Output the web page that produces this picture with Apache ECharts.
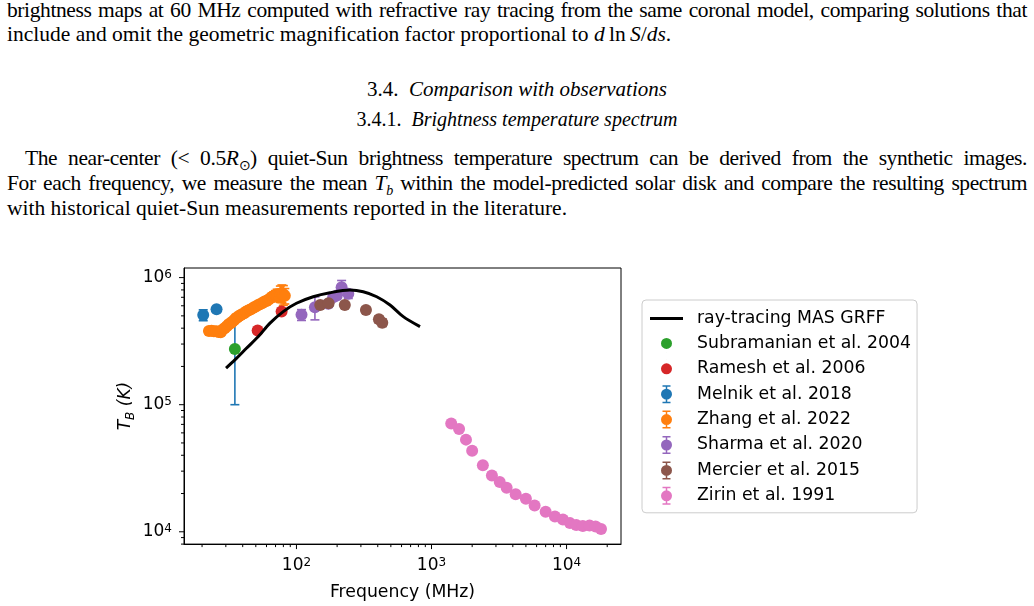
<!DOCTYPE html>
<html>
<head>
<meta charset="utf-8">
<script src="https://cdn.jsdelivr.net/npm/echarts@6/dist/echarts.min.js"></script>
<style>
body { margin: 0; width: 1034px; height: 606px; background: #fff; overflow: hidden; position: relative;
       font-family: "Liberation Serif", serif; color: #000; }
.ln { position: absolute; left: 7px; width: 1020px; font-size: 21.5px; line-height: 24px; }
.j { text-align: justify; text-align-last: justify; letter-spacing: -0.4px; }
.c { left: 0; width: 1034px; text-align: center; }
.ln sub { font-size: 14px; line-height: 0; }
#chart { position: absolute; left: 0; top: 240px; width: 1034px; height: 366px; }
</style>
</head>
<body>
<div class="ln j" style="top:-2px">brightness maps at 60 MHz computed with refractive ray tracing from the same coronal model, comparing solutions that</div>
<div class="ln" style="top:22px">include and omit the geometric magnification factor proportional to <i>d</i>&thinsp;ln&thinsp;<i>S</i>/<i>ds</i>.</div>
<div class="ln c" style="top:77px;font-size:21px">3.4.&nbsp; <i>Comparison with observations</i></div>
<div class="ln c" style="top:107px;font-size:20px">3.4.1.&nbsp; <i>Brightness temperature spectrum</i></div>
<div class="ln j" style="top:146px;left:25px;width:1002px">The near-center (&lt; 0.5<i>R</i><sub>⊙</sub>) quiet-Sun brightness temperature spectrum can be derived from the synthetic images.</div>
<div class="ln j" style="top:171px">For each frequency, we measure the mean <i>T</i><sub><i>b</i></sub> within the model-predicted solar disk and compare the resulting spectrum</div>
<div class="ln" style="top:196px">with historical quiet-Sun measurements reported in the literature.</div>
<div id="chart"></div>
<script>
// axis extents
var xMin = 14.7, xMax = 25300;
var yMin = 8000, yMax = 1.19e6;

// tick positions (matplotlib style log ticks)
var xMajor = [100, 1000, 10000];
var xMinor = [20, 30, 40, 50, 60, 70, 80, 90, 200, 300, 400, 500, 600, 700, 800, 900,
              2000, 3000, 4000, 5000, 6000, 7000, 8000, 9000, 20000];
var yMajor = [1e4, 1e5, 1e6];
var yMinor = [8000, 9000, 2e4, 3e4, 4e4, 5e4, 6e4, 7e4, 8e4, 9e4,
              2e5, 3e5, 4e5, 5e5, 6e5, 7e5, 8e5, 9e5];

// model curve
var modelFreq = [30.1, 35, 42.8, 52.2, 63.7, 79.8, 100, 133, 177, 249, 312, 393, 493, 618, 822];
var modelTb = [1.94e5, 2.25e5, 2.79e5, 3.44e5, 4.38e5, 5.40e5, 6.28e5, 7.07e5, 7.60e5, 7.98e5,
               7.74e5, 7.07e5, 6.08e5, 4.93e5, 4.11e5];

// observations
var subrFreq = [35];
var subrTb = [2.74e5];

var rameshFreq = [51.6, 77.6];
var rameshTb = [3.83e5, 5.40e5];

var melnikFreq = [20.4, 25.6];
var melnikTb = [5.08e5, 5.63e5];
var melnikErr = [5.0e4, 2.0e4];
var melnikBarFreq = [35];
var melnikBarLow = [1.0e5];
var melnikBarHigh = [4.6e5];

var zhangFreq = [22.5, 23.5, 24.5, 25.5, 26.5, 27.5, 28.5, 29.5, 30.5, 31.5, 32.5, 33.5, 34.5, 35.5,
                 36.5, 37.5, 38.5, 39.5, 41, 42.5, 44, 45.5, 47, 48.5, 50, 52, 54, 56, 58, 60, 62,
                 64, 66, 68, 70, 72, 74, 76, 78, 80, 82];
var zhangTb = [3.80e5, 3.82e5, 3.78e5, 3.79e5, 3.74e5, 3.72e5, 3.90e5, 4.02e5, 4.15e5, 4.30e5,
               4.38e5, 4.50e5, 4.62e5, 4.78e5, 4.85e5, 4.98e5, 5.05e5, 5.15e5, 5.25e5, 5.40e5,
               5.52e5, 5.62e5, 5.70e5, 5.85e5, 5.92e5, 6.08e5, 6.20e5, 6.30e5, 6.48e5, 6.55e5,
               6.70e5, 6.88e5, 7.05e5, 7.20e5, 7.30e5, 7.40e5, 7.25e5, 7.48e5, 7.55e5, 7.35e5, 7.20e5];
var zhangErr = [2e4, 2e4, 2e4, 2e4, 2e4, 2e4, 2e4, 2e4, 2e4, 2e4, 2e4, 2e4, 2e4, 2e4,
                2e4, 2e4, 2e4, 2e4, 2e4, 3e4, 3e4, 3e4, 3e4, 3e4, 3e4, 3e4, 3e4, 3e4, 3e4, 4e4, 4e4,
                4e4, 5e4, 5e4, 6e4, 7e4, 8e4, 1.1e5, 1.2e5, 1.3e5, 1.0e5];

var sharmaFreq = [109, 137, 172, 187, 199, 216, 242];
var sharmaTb = [5.10e5, 5.85e5, 6.22e5, 7.00e5, 7.22e5, 8.39e5, 7.45e5];
var sharmaErr = [5e4, 1.2e5, 4e4, 4e4, 4e4, 1.1e5, 6e4];

var mercierFreq = [150, 173, 228, 327, 408, 432];
var mercierTb = [6.08e5, 6.28e5, 6.08e5, 5.56e5, 4.70e5, 4.42e5];
var mercierErr = [3e4, 3e4, 3e4, 3e4, 3e4, 3e4];

var zirinFreq = [1400, 1600, 1800, 2000, 2400, 2800, 3200, 3600, 4200, 5000,
                 5800, 7000, 8200, 9400, 10600, 11800, 13200, 14800, 16400, 18000];
var zirinTb = [7.10e4, 6.45e4, 5.31e4, 4.35e4, 3.34e4, 2.77e4, 2.46e4, 2.22e4, 1.97e4, 1.82e4,
               1.61e4, 1.44e4, 1.32e4, 1.25e4, 1.17e4, 1.13e4, 1.11e4, 1.12e4, 1.10e4, 1.05e4];
var zirinErr = [1e3, 1e3, 1e3, 1e3, 1e3, 1e3, 1e3, 1e3, 1e3, 1e3,
                5e2, 5e2, 5e2, 5e2, 5e2, 5e2, 5e2, 5e2, 5e2, 5e2];

var FONT = "DejaVu Sans";
var C = {
	blue: "#1f77b4", orange: "#ff7f0e", green: "#2ca02c", red: "#d62728",
	purple: "#9467bd", brown: "#8c564b", pink: "#e377c2"
};

var lineIcon = "path://M0,0H33V3H0Z";
var dotIcon = "path://M0,9A5.5,5.5,0,1,1,11,9A5.5,5.5,0,1,1,0,9ZM5.45,0H5.55V0.1H5.45ZM5.45,17.9H5.55V18H5.45Z";
var barIcon = "path://M0,9A5.5,5.5,0,1,1,11,9A5.5,5.5,0,1,1,0,9ZM4.75,0H6.25V18H4.75ZM1.5,0H9.5V1.5H1.5ZM1.5,16.5H9.5V18H1.5Z";

function pairs(xs, ys) {
	return xs.map(function(x, i) { return [x, ys[i]]; });
}

function errRows(freq, tb, err) {
	return freq.map(function(f, i) { return [f, tb[i], tb[i] - err[i], tb[i] + err[i], 1]; });
}

function renderErrorBar(params, api) {
	var color = api.visual("color");
	var f = api.value(0);
	var c = api.coord([f, api.value(1)]);
	var lo = api.coord([f, api.value(2)]);
	var hi = api.coord([f, api.value(3)]);
	var st = { stroke: color, lineWidth: 1.6 };
	var kids = [];
	if (lo[1] - hi[1] > 1) {
		kids.push({ type: "line", shape: { x1: c[0], y1: lo[1], x2: c[0], y2: hi[1] }, style: st });
		kids.push({ type: "line", shape: { x1: c[0] - 4.5, y1: lo[1], x2: c[0] + 4.5, y2: lo[1] }, style: st });
		kids.push({ type: "line", shape: { x1: c[0] - 4.5, y1: hi[1], x2: c[0] + 4.5, y2: hi[1] }, style: st });
	}
	if (api.value(4)) {
		kids.push({ type: "circle", shape: { cx: c[0], cy: c[1], r: 6 }, style: { fill: color } });
	}
	return { type: "group", children: kids };
}

function errorSeries(name, color, rows) {
	return {
		name: name,
		type: "custom",
		itemStyle: { color: color },
		renderItem: renderErrorBar,
		data: rows
	};
}

function tickSeries(axis, values, len) {
	var rows = values.map(function(v) { return axis === "x" ? [v, yMin] : [xMin, v]; });
	return {
		type: "custom",
		silent: true,
		renderItem: function(params, api) {
			var p = api.coord([api.value(0), api.value(1)]);
			var shape = axis === "x"
				? { x1: p[0], y1: p[1], x2: p[0], y2: p[1] + len }
				: { x1: p[0], y1: p[1], x2: p[0] - len, y2: p[1] };
			return { type: "line", shape: shape, style: { stroke: "#000", lineWidth: 1 } };
		},
		data: rows
	};
}

function powLabel(v) {
	var e = Math.log(v) / Math.LN10;
	var r = Math.round(e);
	if (Math.abs(e - r) > 1e-6) {
		return "";
	}
	return "{b|10}{e|" + r + "}";
}

var labelRich = {
	b: { fontSize: 17, fontFamily: FONT, color: "#000", lineHeight: 17, verticalAlign: "bottom" },
	e: { fontSize: 12, fontFamily: FONT, color: "#000", lineHeight: 12, verticalAlign: "top", padding: [0, 0, 10, 0] }
};

var melnikRows = errRows(melnikFreq, melnikTb, melnikErr).concat(
	melnikBarFreq.map(function(f, i) { return [f, melnikBarHigh[i], melnikBarLow[i], melnikBarHigh[i], 0]; }));

var chart = echarts.init(document.getElementById("chart"));
chart.setOption({
	animation: false,
	textStyle: { fontFamily: FONT },
	grid: {
		left: 184, top: 28, right: 413, bottom: 61,
		show: true, borderColor: "#000", borderWidth: 1
	},
	xAxis: {
		type: "log",
		logBase: 10,
		min: xMin,
		max: xMax,
		name: "Frequency (MHz)",
		nameLocation: "middle",
		nameGap: 37,
		nameTextStyle: { fontSize: 17.3, color: "#000", fontFamily: FONT },
		axisLine: { show: true, lineStyle: { color: "#000", width: 1 } },
		axisTick: { show: false },
		splitLine: { show: false },
		axisLabel: { formatter: powLabel, margin: 13, rich: labelRich }
	},
	yAxis: {
		type: "log",
		logBase: 10,
		min: yMin,
		max: yMax,
		name: "{t|T}{s|B}{t| (K)}",
		nameLocation: "middle",
		nameGap: 50,
		nameRotate: 90,
		nameTextStyle: {
			rich: {
				t: { fontSize: 17, fontFamily: FONT, color: "#000", fontStyle: "italic", lineHeight: 17, verticalAlign: "top" },
				s: { fontSize: 12, fontFamily: FONT, color: "#000", fontStyle: "italic", lineHeight: 12, verticalAlign: "top", padding: [8, 0, 0, 0] }
			}
		},
		axisLine: { show: true, lineStyle: { color: "#000", width: 1 } },
		axisTick: { show: false },
		splitLine: { show: false },
		axisLabel: { formatter: powLabel, margin: 12, rich: labelRich }
	},
	legend: {
		orient: "vertical",
		left: 642,
		top: 60,
		padding: [10, 6, 8, 8],
		itemWidth: 33,
		itemHeight: 18,
		itemGap: 7.4,
		borderColor: "#cccccc",
		borderWidth: 1,
		borderRadius: 4,
		backgroundColor: "#fff",
		textStyle: { fontSize: 17.3, color: "#000", fontFamily: FONT, padding: [0, 0, 0, 9] },
		data: [
			{ name: "ray-tracing MAS GRFF", icon: lineIcon, itemStyle: { color: "#000" } },
			{ name: "Subramanian et al. 2004", icon: dotIcon, itemStyle: { color: C.green } },
			{ name: "Ramesh et al. 2006", icon: dotIcon, itemStyle: { color: C.red } },
			{ name: "Melnik et al. 2018", icon: barIcon, itemStyle: { color: C.blue } },
			{ name: "Zhang et al. 2022", icon: barIcon, itemStyle: { color: C.orange } },
			{ name: "Sharma et al. 2020", icon: barIcon, itemStyle: { color: C.purple } },
			{ name: "Mercier et al. 2015", icon: barIcon, itemStyle: { color: C.brown } },
			{ name: "Zirin et al. 1991", icon: barIcon, itemStyle: { color: C.pink } }
		]
	},
	series: [
		tickSeries("x", xMajor, 5),
		tickSeries("x", xMinor, 3),
		tickSeries("y", yMajor, 5),
		tickSeries("y", yMinor, 3),
		{
			name: "ray-tracing MAS GRFF",
			type: "line",
			data: pairs(modelFreq, modelTb),
			smooth: 0.3,
			showSymbol: false,
			itemStyle: { color: "#000" },
			lineStyle: { color: "#000", width: 3 }
		},
		errorSeries("Melnik et al. 2018", C.blue, melnikRows),
		{
			name: "Subramanian et al. 2004",
			type: "scatter",
			symbolSize: 12,
			itemStyle: { color: C.green, opacity: 1 },
			data: pairs(subrFreq, subrTb)
		},
		{
			name: "Ramesh et al. 2006",
			type: "scatter",
			symbolSize: 12,
			itemStyle: { color: C.red, opacity: 1 },
			data: pairs(rameshFreq, rameshTb)
		},
		errorSeries("Zhang et al. 2022", C.orange, errRows(zhangFreq, zhangTb, zhangErr)),
		errorSeries("Sharma et al. 2020", C.purple, errRows(sharmaFreq, sharmaTb, sharmaErr)),
		errorSeries("Mercier et al. 2015", C.brown, errRows(mercierFreq, mercierTb, mercierErr)),
		errorSeries("Zirin et al. 1991", C.pink, errRows(zirinFreq, zirinTb, zirinErr))
	]
});
</script>
</body>
</html>
